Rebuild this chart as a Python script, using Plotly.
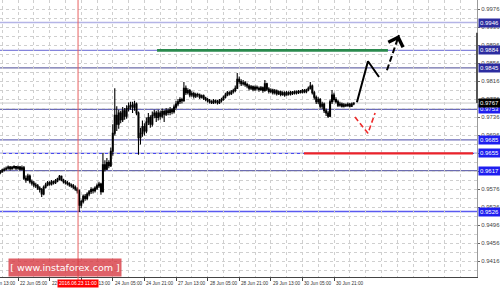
import plotly.graph_objects as go

# ---------------- data ----------------
first_open = 0.9612
bar_start = 7
closes = [
    0.9614, 0.9618, 0.9620, 0.9622, 0.9625, 0.9621, 0.9624, 0.9626, 0.9622, 0.9625,
    0.9620, 0.9623, 0.9600, 0.9596, 0.9605, 0.9592, 0.9589, 0.9585, 0.9583, 0.9578,
    0.9575, 0.9565, 0.9580, 0.9585, 0.9590, 0.9587, 0.9592, 0.9590, 0.9594, 0.9598,
    0.9604, 0.9596, 0.9592, 0.9590, 0.9588, 0.9585, 0.9583, 0.9580, 0.9576, 0.9572,
    0.9540, 0.9548, 0.9560, 0.9555, 0.9565, 0.9570, 0.9575, 0.9572, 0.9578, 0.9583,
    0.9587, 0.9570, 0.9630, 0.9620, 0.9635, 0.9628, 0.9660, 0.9700, 0.9740, 0.9720,
    0.9745, 0.9730, 0.9750, 0.9738, 0.9755, 0.9760, 0.9762, 0.9758, 0.9765, 0.9745,
    0.9690, 0.9700, 0.9715, 0.9705, 0.9725, 0.9735, 0.9720, 0.9740, 0.9745, 0.9735,
    0.9745, 0.9738, 0.9748, 0.9742, 0.9750, 0.9746, 0.9752, 0.9748, 0.9758, 0.9765,
    0.9770, 0.9775, 0.9772, 0.9800, 0.9790, 0.9795, 0.9785, 0.9788, 0.9782, 0.9786,
    0.9785, 0.9780, 0.9783, 0.9778, 0.9775, 0.9772, 0.9770, 0.9768, 0.9772, 0.9770,
    0.9768, 0.9772, 0.9775, 0.9780, 0.9785, 0.9790, 0.9788, 0.9792, 0.9795, 0.9800,
    0.9820, 0.9815, 0.9810, 0.9812, 0.9808, 0.9805, 0.9800, 0.9803, 0.9798, 0.9802,
    0.9800, 0.9797, 0.9801, 0.9795, 0.9810, 0.9798, 0.9793, 0.9796, 0.9790, 0.9794,
    0.9788, 0.9792, 0.9786, 0.9790, 0.9785, 0.9790, 0.9787, 0.9791, 0.9789, 0.9792,
    0.9790, 0.9793, 0.9791, 0.9795, 0.9792, 0.9796, 0.9800, 0.9805, 0.9790, 0.9780,
    0.9770, 0.9775, 0.9760, 0.9765, 0.9750, 0.9745, 0.9738, 0.9770, 0.9785, 0.9775,
    0.9770, 0.9762, 0.9765, 0.9760, 0.9763, 0.9761, 0.9764, 0.9760, 0.9765, 0.9767,
]
highs = [
    0.9618, 0.9621, 0.9624, 0.9626, 0.9628, 0.9627, 0.9627, 0.9629, 0.9627, 0.9628,
    0.9627, 0.9628, 0.9627, 0.9606, 0.9610, 0.9608, 0.9597, 0.9594, 0.9590, 0.9587,
    0.9582, 0.9578, 0.9584, 0.9590, 0.9594, 0.9593, 0.9596, 0.9595, 0.9598, 0.9601,
    0.9607, 0.9606, 0.9599, 0.9596, 0.9594, 0.9591, 0.9588, 0.9587, 0.9584, 0.9580,
    0.9575, 0.9552, 0.9564, 0.9565, 0.9569, 0.9574, 0.9580, 0.9579, 0.9582, 0.9588,
    0.9592, 0.9590, 0.9656, 0.9640, 0.9645, 0.9640, 0.9668, 0.9720, 0.9800, 0.9760,
    0.9752, 0.9750, 0.9758, 0.9756, 0.9762, 0.9768, 0.9770, 0.9770, 0.9772, 0.9768,
    0.9748, 0.9712, 0.9728, 0.9722, 0.9735, 0.9745, 0.9740, 0.9748, 0.9752, 0.9750,
    0.9752, 0.9750, 0.9755, 0.9752, 0.9756, 0.9755, 0.9758, 0.9756, 0.9764, 0.9772,
    0.9776, 0.9780, 0.9779, 0.9814, 0.9806, 0.9800, 0.9798, 0.9793, 0.9792, 0.9790,
    0.9790, 0.9788, 0.9786, 0.9786, 0.9781, 0.9778, 0.9776, 0.9773, 0.9776, 0.9775,
    0.9774, 0.9776, 0.9779, 0.9784, 0.9790, 0.9794, 0.9793, 0.9796, 0.9799, 0.9806,
    0.9834, 0.9826, 0.9820, 0.9818, 0.9816, 0.9812, 0.9809, 0.9807, 0.9806, 0.9806,
    0.9806, 0.9804, 0.9805, 0.9804, 0.9818, 0.9812, 0.9802, 0.9800, 0.9799, 0.9798,
    0.9797, 0.9795, 0.9795, 0.9793, 0.9793, 0.9794, 0.9793, 0.9794, 0.9794, 0.9795,
    0.9795, 0.9796, 0.9796, 0.9798, 0.9798, 0.9799, 0.9804, 0.9814, 0.9808, 0.9794,
    0.9784, 0.9780, 0.9778, 0.9770, 0.9768, 0.9755, 0.9750, 0.9775, 0.9796, 0.9790,
    0.9780, 0.9774, 0.9770, 0.9768, 0.9767, 0.9766, 0.9768, 0.9767, 0.9768, 0.9769,
]
lows = [
    0.9609, 0.9612, 0.9615, 0.9617, 0.9619, 0.9617, 0.9619, 0.9620, 0.9618, 0.9619,
    0.9617, 0.9617, 0.9596, 0.9590, 0.9594, 0.9588, 0.9584, 0.9580, 0.9578, 0.9574,
    0.9568, 0.9558, 0.9562, 0.9577, 0.9582, 0.9583, 0.9584, 0.9586, 0.9587, 0.9591,
    0.9595, 0.9593, 0.9588, 0.9586, 0.9584, 0.9581, 0.9579, 0.9576, 0.9572, 0.9566,
    0.9525, 0.9533, 0.9544, 0.9550, 0.9551, 0.9560, 0.9565, 0.9566, 0.9568, 0.9574,
    0.9578, 0.9563, 0.9568, 0.9615, 0.9618, 0.9622, 0.9625, 0.9650, 0.9695, 0.9705,
    0.9710, 0.9722, 0.9725, 0.9730, 0.9732, 0.9748, 0.9752, 0.9745, 0.9750, 0.9740,
    0.9652, 0.9675, 0.9692, 0.9695, 0.9700, 0.9718, 0.9712, 0.9715, 0.9733, 0.9725,
    0.9728, 0.9730, 0.9733, 0.9725, 0.9738, 0.9740, 0.9740, 0.9742, 0.9744, 0.9752,
    0.9760, 0.9765, 0.9766, 0.9770, 0.9785, 0.9786, 0.9780, 0.9781, 0.9777, 0.9778,
    0.9780, 0.9776, 0.9777, 0.9774, 0.9771, 0.9768, 0.9766, 0.9765, 0.9765, 0.9766,
    0.9764, 0.9765, 0.9768, 0.9772, 0.9777, 0.9782, 0.9784, 0.9785, 0.9788, 0.9791,
    0.9798, 0.9810, 0.9805, 0.9806, 0.9803, 0.9800, 0.9795, 0.9796, 0.9793, 0.9794,
    0.9795, 0.9792, 0.9794, 0.9790, 0.9792, 0.9794, 0.9788, 0.9789, 0.9786, 0.9786,
    0.9784, 0.9785, 0.9782, 0.9783, 0.9781, 0.9783, 0.9784, 0.9784, 0.9785, 0.9786,
    0.9786, 0.9787, 0.9788, 0.9788, 0.9789, 0.9789, 0.9793, 0.9797, 0.9786, 0.9775,
    0.9765, 0.9765, 0.9755, 0.9754, 0.9745, 0.9738, 0.9734, 0.9736, 0.9765, 0.9770,
    0.9766, 0.9758, 0.9759, 0.9757, 0.9757, 0.9758, 0.9759, 0.9757, 0.9758, 0.9762,
]

tick_bars = [0, 16, 32, 48, 64, 80, 96, 112, 128, 144, 160, 176]
tick_labels = ["21 Jun 13:00", "22 Jun 05:00", "22 Jun 21:00", "23 Jun 13:00",
               "24 Jun 05:00", "24 Jun 21:00", "27 Jun 13:00", "28 Jun 05:00",
               "28 Jun 21:00", "29 Jun 13:00", "30 Jun 05:00", "30 Jun 21:00"]
price_ticks = [0.9376, 0.9416, 0.9456, 0.9496, 0.9536, 0.9576, 0.9616, 0.9656,
               0.9696, 0.9736, 0.9776, 0.9816, 0.9856, 0.9896, 0.9936, 0.9976]

level_prices = [0.9946, 0.9884, 0.9845, 0.9753, 0.9685, 0.9655, 0.9617, 0.9526]
level_colors = ["#b4b4e6", "#8484dc", "#6c6caa", "#6c6cb8", "#6c6cb8", "#4a4af0", "#6c6cb0", "#5a5af0"]
level_box_colors = ["#2c2ca0", "#2c2ca0", "#2c2ca0", "#1e1ef0", "#1e1ef0", "#1e1ef0", "#1e1ef0", "#1e1ef0"]
current_price = 0.9767

resistance_price = 0.9884
resistance_bars = [86.4, 203.3]
support_price = 0.9655
support_bars = [160.8, 246.4]

crosshair_bar = 46.4
crosshair_label = "2016.06.23 11:00"

main_path_bars = [187.6, 193.2, 198.8]
main_path_prices = [0.9769, 0.9860, 0.9825]
main_dash_bars = [202.8, 208.9]
main_dash_prices = [0.9840, 0.9918]
alt_path_bars = [186.6, 193.2, 196.8]
alt_path_prices = [0.9736, 0.9700, 0.9745]

x_range = [6.886, 248.4]
y_range = [0.938044, 0.9996]

# ---------------- figure ----------------
bars = list(range(bar_start, bar_start + len(closes)))
opens = [first_open] + closes[:-1]
plot_w = 477

def bar_to_paper(b):
    return (b - x_range[0]) / (x_range[1] - x_range[0])

fig = go.Figure()

# horizontal level lines
for p, c in zip(level_prices, level_colors):
    fig.add_shape(type="line", xref="paper", x0=0, x1=1, yref="y", y0=p, y1=p,
                  line=dict(color=c, width=1.3), layer="below")
fig.add_shape(type="line", xref="paper", x0=0, x1=1, yref="y", y0=current_price, y1=current_price,
              line=dict(color="#c8c8c8", width=1), layer="below")

# right border dark segment
fig.add_shape(type="line", xref="paper", x0=1, x1=1, yref="y", y0=0.9923, y1=current_price,
              line=dict(color="#555555", width=2))

# crosshair
fig.add_shape(type="line", xref="x", x0=crosshair_bar, x1=crosshair_bar, yref="paper", y0=-0.02, y1=1,
              line=dict(color="#e86060", width=1))

fig.add_trace(go.Candlestick(x=bars, open=opens, high=highs, low=lows, close=closes,
                             increasing=dict(line=dict(color="#000000", width=1.1), fillcolor="#ffffff"),
                             decreasing=dict(line=dict(color="#000000", width=1.1), fillcolor="#000000"),
                             whiskerwidth=0, showlegend=False, hoverinfo="skip"))

# resistance / support segments
fig.add_trace(go.Scatter(x=resistance_bars, y=[resistance_price] * 2, mode="lines",
                         line=dict(color="#2a8a4e", width=2.6), showlegend=False, hoverinfo="skip"))
fig.add_trace(go.Scatter(x=support_bars, y=[support_price] * 2, mode="lines",
                         line=dict(color="#ec2328", width=2.2), showlegend=False, hoverinfo="skip"))

# forecast paths
fig.add_trace(go.Scatter(x=main_path_bars, y=main_path_prices, mode="lines",
                         line=dict(color="#000000", width=2), showlegend=False, hoverinfo="skip"))
fig.add_trace(go.Scatter(x=main_dash_bars, y=main_dash_prices, mode="lines",
                         line=dict(color="#000000", width=2, dash="6px,3px"), showlegend=False, hoverinfo="skip"))
fig.add_trace(go.Scatter(x=alt_path_bars, y=alt_path_prices, mode="lines",
                         line=dict(color="#ee2a2a", width=1.6, dash="5px,3px"), showlegend=False, hoverinfo="skip"))

annotations = []

def head(xs, ys, color, w):
    x1, y1 = xs[-1], ys[-1]
    x0, y0 = xs[-2], ys[-2]
    ax = x1 + 0.2 * (x0 - x1)
    ay = y1 + 0.2 * (y0 - y1)
    annotations.append(dict(x=x1, y=y1, ax=ax, ay=ay, xref="x", yref="y", axref="x", ayref="y",
                            showarrow=True, arrowhead=4, arrowsize=1.5, arrowwidth=w,
                            arrowcolor=color, text=""))

head(main_path_bars, main_path_prices, "#000000", 2)
head(main_dash_bars, main_dash_prices, "#000000", 2)
head(alt_path_bars, alt_path_prices, "#ee2a2a", 1.6)

# x tick labels (left aligned at tick); paper coords so clipped labels still show
for b, t in zip(tick_bars, tick_labels):
    annotations.append(dict(x=bar_to_paper(b), y=0, xref="paper", yref="paper", text=t, showarrow=False,
                            xanchor="left", yanchor="top", xshift=0, yshift=-1.5,
                            font=dict(size=4.7, color="#333333", family="Liberation Sans")))

# crosshair date box
annotations.append(dict(x=crosshair_bar, y=0, xref="x", yref="paper", text=crosshair_label,
                        showarrow=False, xanchor="center", yanchor="top", yshift=-2,
                        bgcolor="#ff0000", borderpad=1,
                        font=dict(size=4.9, color="#ffffff", family="Liberation Sans")))

# price level boxes
for p, c in zip(level_prices, level_box_colors):
    annotations.append(dict(x=1, y=p, xref="paper", yref="y", text=f"{p:.4f}", showarrow=False,
                            xanchor="left", yanchor="middle", xshift=1, bgcolor=c, borderpad=1,
                            font=dict(size=6, color="#ffffff", family="Liberation Sans")))
annotations.append(dict(x=1, y=current_price, xref="paper", yref="y", text=f"{current_price:.4f}",
                        showarrow=False, xanchor="left", yanchor="middle", xshift=1,
                        bgcolor="#000000", borderpad=1,
                        font=dict(size=6, color="#ffffff", family="Liberation Sans")))

# watermark
annotations.append(dict(x=8 / plot_w, y=0.0, xref="paper", yref="paper", xanchor="left", yanchor="bottom",
                        text="[ www.instaforex.com ]", showarrow=False, width=110, height=15,
                        bgcolor="rgba(214,52,62,0.78)",
                        font=dict(size=9.5, color="#ffffff", family="DejaVu Sans")))

fig.update_layout(
    width=500, height=288,
    margin=dict(l=0, r=23, t=0, b=11),
    paper_bgcolor="#ffffff", plot_bgcolor="#ffffff",
    showlegend=False,
    annotations=annotations,
    xaxis=dict(range=x_range, tickvals=tick_bars, showticklabels=False, ticks="outside",
               ticklen=3, tickcolor="#444444", showline=True, linecolor="#444444", linewidth=1,
               showgrid=True, gridcolor="#cfcfcf", griddash="dot", gridwidth=1,
               minor=dict(dtick=8, tick0=0, showgrid=True, gridcolor="#cfcfcf", griddash="dot"),
               zeroline=False, rangeslider=dict(visible=False), fixedrange=True),
    yaxis=dict(range=y_range, side="right", tickvals=price_ticks, tickformat=".4f",
               ticks="outside", ticklen=2, tickcolor="#666666",
               tickfont=dict(size=6, color="#444444", family="Liberation Sans"),
               showline=True, linecolor="#9a9a9a", linewidth=1,
               showgrid=True, gridcolor="#cfcfcf", griddash="dot", gridwidth=1,
               minor=dict(dtick=0.002, tick0=0.9376, showgrid=True, gridcolor="#cfcfcf", griddash="dot"),
               zeroline=False, fixedrange=True),
)

fig.write_html("out.html")
